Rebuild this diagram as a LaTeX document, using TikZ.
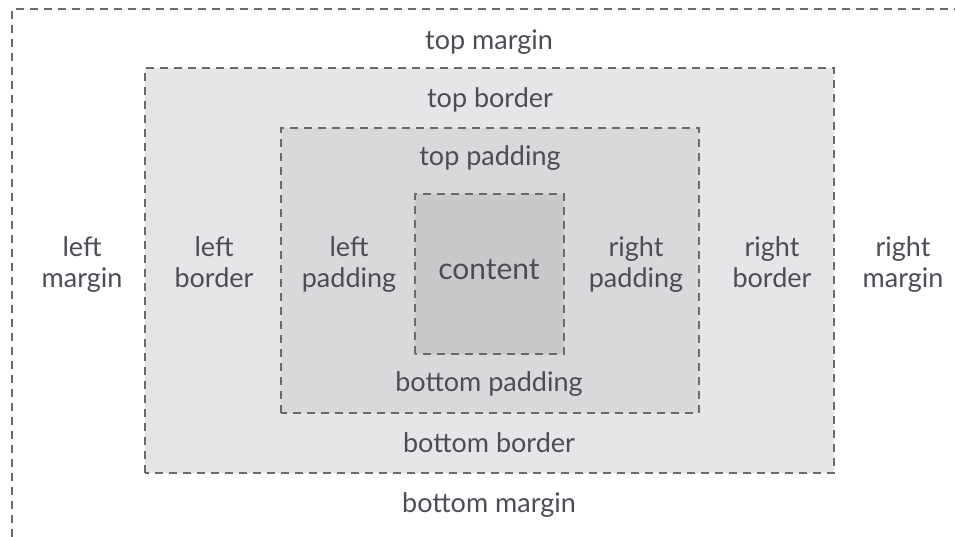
\documentclass[tikz,border=0pt]{standalone}
\usepackage{fontspec}
\setmainfont{Lato}
\begin{document}
\begin{tikzpicture}[x=1pt,y=1pt,
  box/.style={draw=dashgray, line width=1.6pt, dash pattern=on 8pt off 6pt},
  lbl/.style={text=labelgray, font=\fontsize{27}{31}\selectfont, align=center, inner sep=0pt}]
\definecolor{dashgray}{HTML}{6A6A6C}
\definecolor{labelgray}{HTML}{4C4C56}
\definecolor{borderfill}{HTML}{E6E6E8}
\definecolor{paddingfill}{HTML}{D9D9DB}
\definecolor{contentfill}{HTML}{C9C9CB}
\useasboundingbox (0,0) rectangle (955,537);
% margin edge (runs off the right and bottom)
\draw[box] (990,528) -- (12,528) -- (12,-30);
% border, padding and content boxes
\draw[box, fill=borderfill] (145,64) rectangle (834,469);
\draw[box, fill=paddingfill] (281,124) rectangle (699,409);
\draw[box, fill=contentfill] (415,183) rectangle (564,343);
% labels (struts keep the two-line labels on common baselines)
\node[lbl] (tm) at (489,495) {top margin};
\node[lbl] (tb) at (490,437) {top border};
\node[lbl] (tp) at (490,379) {top padding};
\node[lbl] (lm) at (82,271) {left\strut\\margin\strut};
\node[lbl] (lb) at (214,271) {left\strut\\border\strut};
\node[lbl] (lp) at (349,271) {left\strut\\padding\strut};
\node[lbl, font=\fontsize{30}{36}\selectfont] (ct) at (489,267) {content};
\node[lbl] (rp) at (636,271) {right\strut\\padding\strut};
\node[lbl] (rb) at (772,271) {right\strut\\border\strut};
\node[lbl] (rm) at (903,271) {right\strut\\margin\strut};
\node[lbl] (bp) at (489,153) {bottom padding};
\node[lbl] (bb) at (489,94) {bottom border};
\node[lbl] (bm) at (489,32) {bottom margin};
\end{tikzpicture}
\end{document}
